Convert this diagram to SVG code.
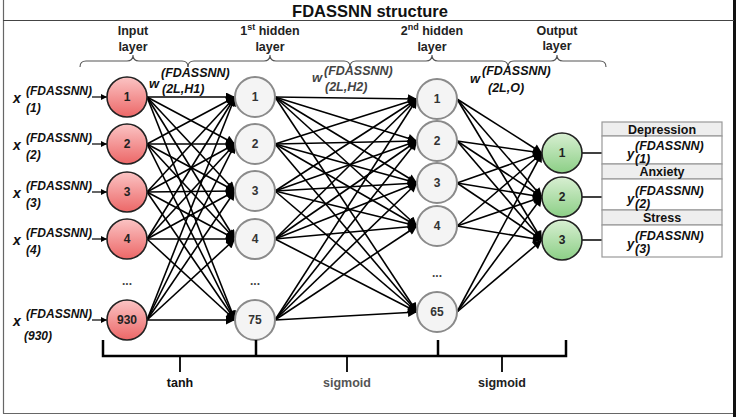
<svg xmlns="http://www.w3.org/2000/svg" width="741" height="417" viewBox="0 0 741 417">
<defs>
<linearGradient id="gRed" x1="0" y1="0" x2="0" y2="1"><stop offset="0" stop-color="#fbc4c4"/><stop offset="1" stop-color="#ec6767"/></linearGradient>
<linearGradient id="gGreen" x1="0" y1="0" x2="0" y2="1"><stop offset="0" stop-color="#d8efd2"/><stop offset="1" stop-color="#8ccf86"/></linearGradient>
<marker id="ah" viewBox="0 0 10 10" refX="10" refY="5" markerUnits="userSpaceOnUse" markerWidth="11" markerHeight="9" orient="auto"><path d="M0,0 L10,5 L0,10 z" fill="#000"/></marker>
<marker id="ahs" viewBox="0 0 10 10" refX="10" refY="5" markerUnits="userSpaceOnUse" markerWidth="7" markerHeight="6" orient="auto"><path d="M0,0 L10,5 L0,10 z" fill="#000"/></marker>
</defs>
<style>
text{font-family:"Liberation Sans",Arial,sans-serif;}
.t{font-weight:bold;font-size:12.5px;fill:#222;text-anchor:middle;}
.bi{font-weight:bold;font-style:italic;fill:#111;}
.n{font-weight:bold;font-size:12px;text-anchor:middle;fill:#222;}
.e line{stroke:#000;stroke-width:1.6;marker-end:url(#ah);}
.red{fill:url(#gRed);stroke:#222;stroke-width:1.6;}
.gry{fill:#f4f4f4;stroke:#8a8a8a;stroke-width:2;}
.grn{fill:url(#gGreen);stroke:#222;stroke-width:1.6;}
.brace{fill:none;stroke:#555;stroke-width:1.1;}
.brk{fill:none;stroke:#000;stroke-width:2.5;}
.hdr{fill:#eeeeee;stroke:#999;stroke-width:1.2;}
.row{fill:#fff;stroke:#999;stroke-width:1.2;}
</style>
<rect x="0" y="0" width="741" height="417" fill="#fff"/>
<g id="frame">
<line x1="3.5" y1="0" x2="3.5" y2="413.5" stroke="#666" stroke-width="1.2"/>
<line x1="3" y1="413.5" x2="735" y2="413.5" stroke="#666" stroke-width="1.2"/>
<line x1="734.5" y1="0" x2="734.5" y2="417" stroke="#111" stroke-width="3"/>
<line x1="3" y1="20.5" x2="734" y2="20.5" stroke="#444" stroke-width="1.2"/>
<text x="370" y="17" style="font-weight:bold;font-size:16.5px;text-anchor:middle;fill:#111">FDASSNN structure</text>
</g>
<g id="layer-titles">
<text class="t" x="133" y="35">Input</text>
<text class="t" x="133" y="51">layer</text>
<text class="t" x="270" y="35">1<tspan font-size="9" dy="-5">st</tspan><tspan dy="5"> hidden</tspan></text>
<text class="t" x="270" y="51">layer</text>
<text class="t" x="432" y="35">2<tspan font-size="9" dy="-5">nd</tspan><tspan dy="5"> hidden</tspan></text>
<text class="t" x="432" y="51">layer</text>
<text class="t" x="557" y="35">Output</text>
<text class="t" x="557" y="50">layer</text>
</g>
<g id="braces">
<path class="brace" d="M80,67 Q80,61 86,61 L127,61 Q133,61 133,55 Q133,61 139,61 L182,61 Q188,61 188,67"/>
<path class="brace" d="M188,67 Q188,61 194,61 L264,61 Q270,61 270,55 Q270,61 276,61 L344,61 Q350,61 350,67"/>
<path class="brace" d="M350,67 Q350,61 356,61 L426,61 Q432,61 432,55 Q432,61 438,61 L502,61 Q508,61 508,67"/>
<path class="brace" d="M508,67 Q508,61 514,61 L551,61 Q557,61 557,55 Q557,61 563,61 L600,61 Q606,61 606,67"/>
</g>
<g id="connectors" class="e">
<line x1="147" y1="97" x2="235" y2="97"/><line x1="147" y1="97" x2="235" y2="144"/><line x1="147" y1="97" x2="235" y2="191"/><line x1="147" y1="97" x2="235" y2="239"/><line x1="147" y1="97" x2="235" y2="320"/>
<line x1="147" y1="144" x2="235" y2="97"/><line x1="147" y1="144" x2="235" y2="144"/><line x1="147" y1="144" x2="235" y2="191"/><line x1="147" y1="144" x2="235" y2="239"/><line x1="147" y1="144" x2="235" y2="320"/>
<line x1="147" y1="192" x2="235" y2="97"/><line x1="147" y1="192" x2="235" y2="144"/><line x1="147" y1="192" x2="235" y2="191"/><line x1="147" y1="192" x2="235" y2="239"/><line x1="147" y1="192" x2="235" y2="320"/>
<line x1="147" y1="239" x2="235" y2="97"/><line x1="147" y1="239" x2="235" y2="144"/><line x1="147" y1="239" x2="235" y2="191"/><line x1="147" y1="239" x2="235" y2="239"/><line x1="147" y1="239" x2="235" y2="320"/>
<line x1="147" y1="320" x2="235" y2="97"/><line x1="147" y1="320" x2="235" y2="144"/><line x1="147" y1="320" x2="235" y2="191"/><line x1="147" y1="320" x2="235" y2="239"/><line x1="147" y1="320" x2="235" y2="320"/>

<line x1="275" y1="97" x2="417" y2="99"/><line x1="275" y1="97" x2="417" y2="141"/><line x1="275" y1="97" x2="417" y2="183"/><line x1="275" y1="97" x2="417" y2="226"/><line x1="275" y1="97" x2="417" y2="312"/>
<line x1="275" y1="144" x2="417" y2="99"/><line x1="275" y1="144" x2="417" y2="141"/><line x1="275" y1="144" x2="417" y2="183"/><line x1="275" y1="144" x2="417" y2="226"/><line x1="275" y1="144" x2="417" y2="312"/>
<line x1="275" y1="191" x2="417" y2="99"/><line x1="275" y1="191" x2="417" y2="141"/><line x1="275" y1="191" x2="417" y2="183"/><line x1="275" y1="191" x2="417" y2="226"/><line x1="275" y1="191" x2="417" y2="312"/>
<line x1="275" y1="239" x2="417" y2="99"/><line x1="275" y1="239" x2="417" y2="141"/><line x1="275" y1="239" x2="417" y2="183"/><line x1="275" y1="239" x2="417" y2="226"/><line x1="275" y1="239" x2="417" y2="312"/>
<line x1="275" y1="320" x2="417" y2="99"/><line x1="275" y1="320" x2="417" y2="141"/><line x1="275" y1="320" x2="417" y2="183"/><line x1="275" y1="320" x2="417" y2="226"/><line x1="275" y1="320" x2="417" y2="312"/>

<line x1="457" y1="99" x2="542" y2="153"/><line x1="457" y1="99" x2="542" y2="197"/><line x1="457" y1="99" x2="542" y2="240"/>
<line x1="457" y1="141" x2="542" y2="153"/><line x1="457" y1="141" x2="542" y2="197"/><line x1="457" y1="141" x2="542" y2="240"/>
<line x1="457" y1="183" x2="542" y2="153"/><line x1="457" y1="183" x2="542" y2="197"/><line x1="457" y1="183" x2="542" y2="240"/>
<line x1="457" y1="226" x2="542" y2="153"/><line x1="457" y1="226" x2="542" y2="197"/><line x1="457" y1="226" x2="542" y2="240"/>
<line x1="457" y1="312" x2="542" y2="153"/><line x1="457" y1="312" x2="542" y2="197"/><line x1="457" y1="312" x2="542" y2="240"/>

<line x1="582" y1="153" x2="629" y2="153"/><line x1="582" y1="197" x2="629" y2="197"/><line x1="582" y1="240" x2="629" y2="240"/>
<line x1="92" y1="97" x2="107" y2="97" style="marker-end:url(#ahs);stroke-width:1.2"/>
<line x1="92" y1="144" x2="107" y2="144" style="marker-end:url(#ahs);stroke-width:1.2"/>
<line x1="92" y1="192" x2="107" y2="192" style="marker-end:url(#ahs);stroke-width:1.2"/>
<line x1="92" y1="239" x2="107" y2="239" style="marker-end:url(#ahs);stroke-width:1.2"/>
<line x1="92" y1="320" x2="107" y2="320" style="marker-end:url(#ahs);stroke-width:1.2"/>
</g>
<g id="weights">
<text class="bi" x="149" y="88" font-size="13">w</text><text class="bi" x="161" y="77" font-size="12.5">(FDASSNN)</text><text class="bi" x="162" y="93" font-size="12.5">(2L,H1)</text>
<text class="bi" x="312" y="82" font-size="13" style="fill:#444">w</text><text class="bi" x="324" y="75" font-size="12.5" style="fill:#444">(FDASSNN)</text><text class="bi" x="325" y="91" font-size="12.5" style="fill:#444">(2L,H2)</text>
<text class="bi" x="470" y="83" font-size="13">w</text><text class="bi" x="482" y="75" font-size="12.5">(FDASSNN)</text><text class="bi" x="488" y="92" font-size="12.5">(2L,O)</text>
</g>
<g id="input-labels">
<text class="bi" x="13" y="103" font-size="14">x</text><text class="bi" x="26" y="95" font-size="12">(FDASSNN)</text><text class="bi" x="26" y="112" font-size="12">(1)</text>
<text class="bi" x="13" y="150" font-size="14">x</text><text class="bi" x="26" y="142" font-size="12">(FDASSNN)</text><text class="bi" x="26" y="159" font-size="12">(2)</text>
<text class="bi" x="13" y="198" font-size="14">x</text><text class="bi" x="26" y="190" font-size="12">(FDASSNN)</text><text class="bi" x="26" y="207" font-size="12">(3)</text>
<text class="bi" x="13" y="245" font-size="14">x</text><text class="bi" x="26" y="237" font-size="12">(FDASSNN)</text><text class="bi" x="26" y="254" font-size="12">(4)</text>
<text class="bi" x="13" y="326" font-size="14">x</text><text class="bi" x="26" y="318" font-size="12">(FDASSNN)</text><text class="bi" x="24" y="340" font-size="12">(930)</text>
</g>
<g id="in1"><circle class="red" cx="127" cy="97" r="20"/><text class="n" x="127" y="101">1</text></g>
<g id="in2"><circle class="red" cx="127" cy="144" r="20"/><text class="n" x="127" y="148">2</text></g>
<g id="in3"><circle class="red" cx="127" cy="192" r="20"/><text class="n" x="127" y="196">3</text></g>
<g id="in4"><circle class="red" cx="127" cy="239" r="20"/><text class="n" x="127" y="243">4</text></g>
<g id="in-dots"><text class="n" x="127" y="285" style="fill:#444">...</text></g>
<g id="in930"><circle class="red" cx="127" cy="320" r="20"/><text class="n" x="127" y="324">930</text></g>
<g id="h1-1"><circle class="gry" cx="255" cy="97" r="20"/><text class="n" x="255" y="101" style="fill:#333">1</text></g>
<g id="h1-2"><circle class="gry" cx="255" cy="144" r="20"/><text class="n" x="255" y="148" style="fill:#333">2</text></g>
<g id="h1-3"><circle class="gry" cx="255" cy="191" r="20"/><text class="n" x="255" y="195" style="fill:#333">3</text></g>
<g id="h1-4"><circle class="gry" cx="255" cy="239" r="20"/><text class="n" x="255" y="243" style="fill:#333">4</text></g>
<g id="h1-dots"><text class="n" x="255" y="285" style="fill:#444">...</text></g>
<g id="h1-75"><circle class="gry" cx="255" cy="320" r="20"/><text class="n" x="255" y="324" style="fill:#333">75</text></g>
<g id="h2-1"><circle class="gry" cx="437" cy="99" r="20"/><text class="n" x="437" y="103" style="fill:#333">1</text></g>
<g id="h2-2"><circle class="gry" cx="437" cy="141" r="20"/><text class="n" x="437" y="145" style="fill:#333">2</text></g>
<g id="h2-3"><circle class="gry" cx="437" cy="183" r="20"/><text class="n" x="437" y="187" style="fill:#333">3</text></g>
<g id="h2-4"><circle class="gry" cx="437" cy="226" r="20"/><text class="n" x="437" y="230" style="fill:#333">4</text></g>
<g id="h2-dots"><text class="n" x="437" y="277" style="fill:#444">...</text></g>
<g id="h2-65"><circle class="gry" cx="437" cy="312" r="20"/><text class="n" x="437" y="316" style="fill:#333">65</text></g>
<g id="out1"><circle class="grn" cx="562" cy="153" r="20"/><text class="n" x="562" y="157">1</text></g>
<g id="out2"><circle class="grn" cx="562" cy="197" r="20"/><text class="n" x="562" y="201">2</text></g>
<g id="out3"><circle class="grn" cx="562" cy="240" r="20"/><text class="n" x="562" y="244">3</text></g>
<g id="out-table">
<rect class="hdr" x="602" y="122" width="120" height="14"/>
<rect class="row" x="602" y="136" width="120" height="28"/>
<rect class="hdr" x="602" y="164" width="120" height="15"/>
<rect class="row" x="602" y="179" width="120" height="31"/>
<rect class="hdr" x="602" y="210" width="120" height="15"/>
<rect class="row" x="602" y="225" width="120" height="32"/>
<text class="t" x="662" y="134" style="fill:#111">Depression</text>
<text class="t" x="662" y="176" style="fill:#111">Anxiety</text>
<text class="t" x="662" y="222" style="fill:#111">Stress</text>
<text class="bi" x="627" y="158" font-size="13">y</text><text class="bi" x="635" y="150" font-size="12.5">(FDASSNN)</text><text class="bi" x="635" y="163" font-size="12.5">(1)</text>
<text class="bi" x="627" y="203" font-size="13">y</text><text class="bi" x="635" y="195" font-size="12.5">(FDASSNN)</text><text class="bi" x="635" y="208" font-size="12.5">(2)</text>
<text class="bi" x="627" y="248" font-size="13">y</text><text class="bi" x="635" y="240" font-size="12.5">(FDASSNN)</text><text class="bi" x="635" y="253" font-size="12.5">(3)</text>
</g>
<g id="activations">
<path class="brk" d="M103,340 V356 H566 V340"/>
<line class="brk" x1="256" y1="340" x2="256" y2="356"/>
<line class="brk" x1="438" y1="340" x2="438" y2="356"/>
<line class="brk" x1="180" y1="356" x2="180" y2="372" style="stroke-width:1.8"/>
<line class="brk" x1="347" y1="356" x2="347" y2="372" style="stroke-width:1.8"/>
<line class="brk" x1="502" y1="356" x2="502" y2="372" style="stroke-width:1.8"/>
<text class="t" x="180" y="387" style="fill:#111">tanh</text>
<text class="t" x="347" y="387" style="fill:#555">sigmoid</text>
<text class="t" x="502" y="387" style="fill:#222">sigmoid</text>
</g>
</svg>
